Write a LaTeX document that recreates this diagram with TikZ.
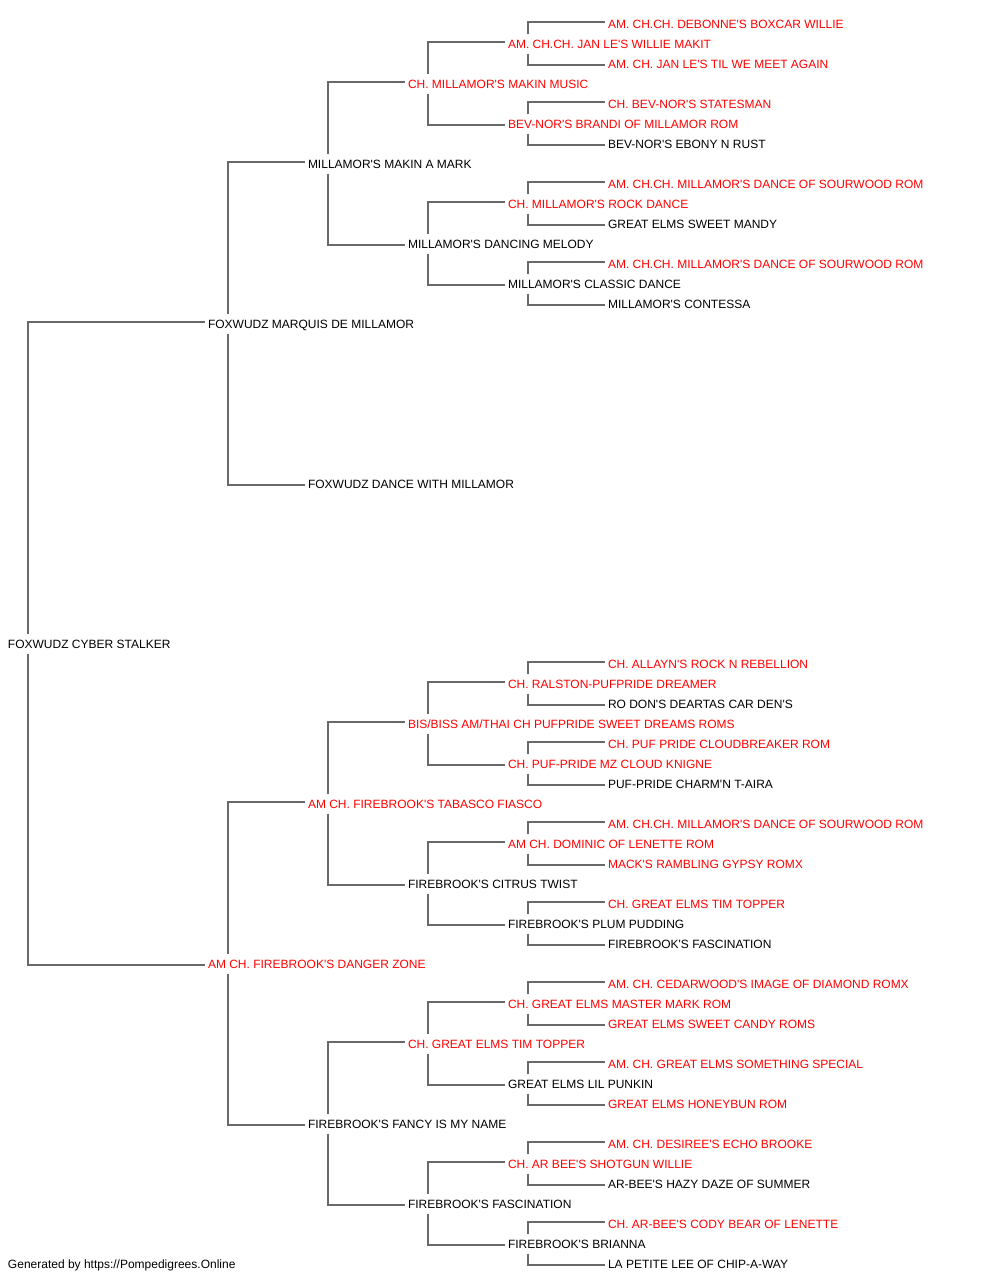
\documentclass[tikz,border=0pt]{standalone}
\usepackage{fontspec}
\newfontfamily\pedfont{Liberation Sans}
\usetikzlibrary{calc}
\definecolor{linegray}{RGB}{105,105,105}
\definecolor{namered}{RGB}{255,0,0}
\tikzset{
  nm/.style={anchor=base west, inner sep=0pt, outer sep=0pt, font=\pedfont\fontsize{12}{14}\selectfont},
  rn/.style={nm, text=namered},
  bn/.style={nm, text=black},
  link/.style={draw=linegray, line width=1.2pt},
}
\newcommand\sirelink[2]{\draw[link] ($(#1.base west)+(20,-14.5)$) |- ($(#2.base west)+(-3,-6.5)$);}
\newcommand\damlink[2]{\draw[link] ($(#1.base west)+(20,5.0)$) |- ($(#2.base west)+(-3,-3.5)$);}
\begin{document}
\begin{tikzpicture}[x=1pt,y=-1pt]
\useasboundingbox (0,0) rectangle (1000,1280);
% root
\node[bn] (n1) at (8,648.5) {FOXWUDZ CYBER STALKER};
% gen 1
\node[bn] (n2) at (208,328.5) {FOXWUDZ MARQUIS DE MILLAMOR};
\node[rn] (n3) at (208,968.5) {AM CH. FIREBROOK'S DANGER ZONE};
% gen 2
\node[bn] (n4) at (308,168.5) {MILLAMOR'S MAKIN A MARK};
\node[bn] (n5) at (308,488.5) {FOXWUDZ DANCE WITH MILLAMOR};
\node[rn] (n6) at (308,808.5) {AM CH. FIREBROOK'S TABASCO FIASCO};
\node[bn] (n7) at (308,1128.5) {FIREBROOK'S FANCY IS MY NAME};
% gen 3
\node[rn] (n8) at (408,88.5) {CH. MILLAMOR'S MAKIN MUSIC};
\node[bn] (n9) at (408,248.5) {MILLAMOR'S DANCING MELODY};
\node[rn] (n12) at (408,728.5) {BIS/BISS AM/THAI CH PUFPRIDE SWEET DREAMS ROMS};
\node[bn] (n13) at (408,888.5) {FIREBROOK'S CITRUS TWIST};
\node[rn] (n14) at (408,1048.5) {CH. GREAT ELMS TIM TOPPER};
\node[bn] (n15) at (408,1208.5) {FIREBROOK'S FASCINATION};
% gen 4
\node[rn] (n16) at (508,48.5) {AM. CH.CH. JAN LE'S WILLIE MAKIT};
\node[rn] (n17) at (508,128.5) {BEV-NOR'S BRANDI OF MILLAMOR ROM};
\node[rn] (n18) at (508,208.5) {CH. MILLAMOR'S ROCK DANCE};
\node[bn] (n19) at (508,288.5) {MILLAMOR'S CLASSIC DANCE};
\node[rn] (n24) at (508,688.5) {CH. RALSTON-PUFPRIDE DREAMER};
\node[rn] (n25) at (508,768.5) {CH. PUF-PRIDE MZ CLOUD KNIGNE};
\node[rn] (n26) at (508,848.5) {AM CH. DOMINIC OF LENETTE ROM};
\node[bn] (n27) at (508,928.5) {FIREBROOK'S PLUM PUDDING};
\node[rn] (n28) at (508,1008.5) {CH. GREAT ELMS MASTER MARK ROM};
\node[bn] (n29) at (508,1088.5) {GREAT ELMS LIL PUNKIN};
\node[rn] (n30) at (508,1168.5) {CH. AR BEE'S SHOTGUN WILLIE};
\node[bn] (n31) at (508,1248.5) {FIREBROOK'S BRIANNA};
% gen 5
\node[rn] (n32) at (608,28.5) {AM. CH.CH. DEBONNE'S BOXCAR WILLIE};
\node[rn] (n33) at (608,68.5) {AM. CH. JAN LE'S TIL WE MEET AGAIN};
\node[rn] (n34) at (608,108.5) {CH. BEV-NOR'S STATESMAN};
\node[bn] (n35) at (608,148.5) {BEV-NOR'S EBONY N RUST};
\node[rn] (n36) at (608,188.5) {AM. CH.CH. MILLAMOR'S DANCE OF SOURWOOD ROM};
\node[bn] (n37) at (608,228.5) {GREAT ELMS SWEET MANDY};
\node[rn] (n38) at (608,268.5) {AM. CH.CH. MILLAMOR'S DANCE OF SOURWOOD ROM};
\node[bn] (n39) at (608,308.5) {MILLAMOR'S CONTESSA};
\node[rn] (n48) at (608,668.5) {CH. ALLAYN'S ROCK N REBELLION};
\node[bn] (n49) at (608,708.5) {RO DON'S DEARTAS CAR DEN'S};
\node[rn] (n50) at (608,748.5) {CH. PUF PRIDE CLOUDBREAKER ROM};
\node[bn] (n51) at (608,788.5) {PUF-PRIDE CHARM'N T-AIRA};
\node[rn] (n52) at (608,828.5) {AM. CH.CH. MILLAMOR'S DANCE OF SOURWOOD ROM};
\node[rn] (n53) at (608,868.5) {MACK'S RAMBLING GYPSY ROMX};
\node[rn] (n54) at (608,908.5) {CH. GREAT ELMS TIM TOPPER};
\node[bn] (n55) at (608,948.5) {FIREBROOK'S FASCINATION};
\node[rn] (n56) at (608,988.5) {AM. CH. CEDARWOOD'S IMAGE OF DIAMOND ROMX};
\node[rn] (n57) at (608,1028.5) {GREAT ELMS SWEET CANDY ROMS};
\node[rn] (n58) at (608,1068.5) {AM. CH. GREAT ELMS SOMETHING SPECIAL};
\node[rn] (n59) at (608,1108.5) {GREAT ELMS HONEYBUN ROM};
\node[rn] (n60) at (608,1148.5) {AM. CH. DESIREE'S ECHO BROOKE};
\node[bn] (n61) at (608,1188.5) {AR-BEE'S HAZY DAZE OF SUMMER};
\node[rn] (n62) at (608,1228.5) {CH. AR-BEE'S CODY BEAR OF LENETTE};
\node[bn] (n63) at (608,1268.5) {LA PETITE LEE OF CHIP-A-WAY};
% footer
\node[bn] (foot) at (8,1268.5) {Generated by https://Pompedigrees.Online};
% connectors
\draw[link] ($(n1.base west)+(20,-14.5)$) |- ($(n2.base west)+(-3,-6.5)$);
\damlink{n1}{n3}
\sirelink{n2}{n4} \damlink{n2}{n5}
\sirelink{n3}{n6} \damlink{n3}{n7}
\sirelink{n4}{n8} \damlink{n4}{n9}
\sirelink{n6}{n12} \damlink{n6}{n13}
\sirelink{n7}{n14} \damlink{n7}{n15}
\sirelink{n8}{n16} \damlink{n8}{n17}
\sirelink{n9}{n18} \damlink{n9}{n19}
\sirelink{n12}{n24} \damlink{n12}{n25}
\sirelink{n13}{n26} \damlink{n13}{n27}
\sirelink{n14}{n28} \damlink{n14}{n29}
\sirelink{n15}{n30} \damlink{n15}{n31}
\sirelink{n16}{n32} \damlink{n16}{n33}
\sirelink{n17}{n34} \damlink{n17}{n35}
\sirelink{n18}{n36} \damlink{n18}{n37}
\sirelink{n19}{n38} \damlink{n19}{n39}
\sirelink{n24}{n48} \damlink{n24}{n49}
\sirelink{n25}{n50} \damlink{n25}{n51}
\sirelink{n26}{n52} \damlink{n26}{n53}
\sirelink{n27}{n54} \damlink{n27}{n55}
\sirelink{n28}{n56} \damlink{n28}{n57}
\sirelink{n29}{n58} \damlink{n29}{n59}
\sirelink{n30}{n60} \damlink{n30}{n61}
\sirelink{n31}{n62} \damlink{n31}{n63}
\end{tikzpicture}
\end{document}
